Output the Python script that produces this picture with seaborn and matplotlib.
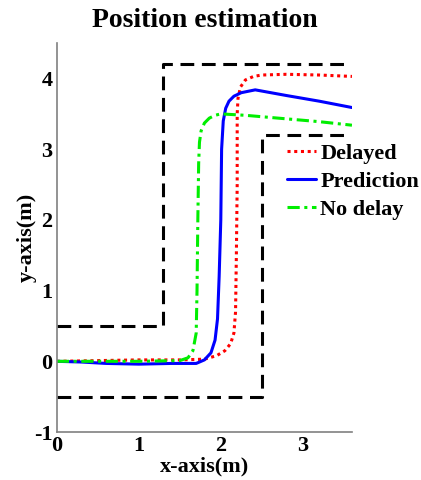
import matplotlib
matplotlib.use('Agg')
import matplotlib.pyplot as plt
import seaborn as sns

# Road boundaries (dashed)
outer_x = [0.0, 1.3, 1.3, 3.5]
outer_y = [0.5, 0.5, 4.2, 4.2]
inner_x = [0.0, 2.5, 2.5, 3.5]
inner_y = [-0.5, -0.5, 3.2, 3.2]

# Delayed trajectory
delayed_x = [0.0, 0.5, 1.0, 1.5, 1.8, 1.95, 2.05, 2.12, 2.16, 2.18, 2.19, 2.2, 2.2,
             2.21, 2.24, 2.3, 2.4, 2.5, 2.8, 3.2, 3.6]
delayed_y = [0.0, 0.01, 0.02, 0.02, 0.03, 0.08, 0.15, 0.25, 0.4, 0.7, 1.5, 2.5, 3.5,
             3.72, 3.88, 3.98, 4.03, 4.05, 4.06, 4.05, 4.03]

# Prediction trajectory
pred_x = [0.0, 0.3, 0.6, 1.0, 1.4, 1.7, 1.8, 1.88, 1.93, 1.96, 1.98, 2.0, 2.01,
          2.03, 2.06, 2.1, 2.16, 2.25, 2.42, 2.8, 3.2, 3.6]
pred_y = [0.0, -0.01, -0.03, -0.04, -0.03, -0.03, 0.02, 0.12, 0.3, 0.6, 1.2, 2.0, 3.0,
          3.4, 3.58, 3.68, 3.75, 3.8, 3.84, 3.76, 3.68, 3.59]

# No delay trajectory
nodelay_x = [0.0, 0.5, 1.0, 1.5, 1.6, 1.66, 1.7, 1.71, 1.72, 1.73, 1.74, 1.76, 1.8,
             1.86, 1.93, 2.0, 2.3, 2.8, 3.2, 3.6]
nodelay_y = [0.0, 0.0, 0.0, 0.01, 0.05, 0.15, 0.4, 1.0, 2.0, 2.8, 3.1, 3.26, 3.37,
             3.44, 3.48, 3.5, 3.48, 3.43, 3.39, 3.34]

sns.set_style('white')
plt.rcParams['font.family'] = ['Liberation Serif', 'DejaVu Serif']
plt.rcParams['font.weight'] = 'bold'
plt.rcParams['axes.unicode_minus'] = False
plt.rcParams['text.color'] = 'black'
plt.rcParams['axes.labelcolor'] = 'black'
plt.rcParams['xtick.color'] = 'black'
plt.rcParams['ytick.color'] = 'black'

fig = plt.figure(figsize=(4.21, 4.8), dpi=100)
ax = fig.add_axes([0.135, 0.1, 0.701, 0.81])

# boundaries
for bx, by in [(outer_x, outer_y), (inner_x, inner_y)]:
    sns.lineplot(x=bx, y=by, sort=False, estimator=None, color='black',
                 linewidth=2.2, ax=ax)
for line in ax.lines:
    line.set_dashes([4.5, 2.5])

n = len(ax.lines)
sns.lineplot(x=delayed_x, y=delayed_y, sort=False, estimator=None, color='#ff0000',
             linewidth=2.2, ax=ax, label='Delayed')
sns.lineplot(x=pred_x, y=pred_y, sort=False, estimator=None, color='#0000ff',
             linewidth=2.2, ax=ax, label='Prediction')
sns.lineplot(x=nodelay_x, y=nodelay_y, sort=False, estimator=None, color='#00ee00',
             linewidth=2.2, ax=ax, label='No delay')
ax.lines[n].set_linestyle((0, (1, 1.2)))
ax.lines[n + 2].set_linestyle((0, (4, 1.5, 1, 1.5)))

ax.set_xlim(0, 3.6)
ax.set_ylim(-1, 4.5)
ax.set_xticks([0, 1, 2, 3])
ax.set_yticks([-1, 0, 1, 2, 3, 4])
ax.tick_params(labelsize=16, direction='in', length=3, color='gray', pad=3)
for lab in ax.get_xticklabels() + ax.get_yticklabels():
    lab.set_fontweight('bold')

for s in ['top', 'right']:
    ax.spines[s].set_visible(False)
for s in ['left', 'bottom']:
    ax.spines[s].set_color('gray')
    ax.spines[s].set_linewidth(1.2)

ax.set_xlabel('x-axis(m)', fontsize=16, fontweight='bold', labelpad=0)
ax.set_ylabel('y-axis(m)', fontsize=16, fontweight='bold', labelpad=-2)
ax.set_title('Position estimation', fontsize=20, fontweight='bold', pad=12)

leg = ax.legend(loc='upper left', bbox_to_anchor=(0.75, 0.765), frameon=False,
                prop={'size': 16, 'weight': 'bold'}, handlelength=1.3,
                handletextpad=0.2, labelspacing=0.33, borderaxespad=0)

fig.savefig('out.png', dpi=100)
